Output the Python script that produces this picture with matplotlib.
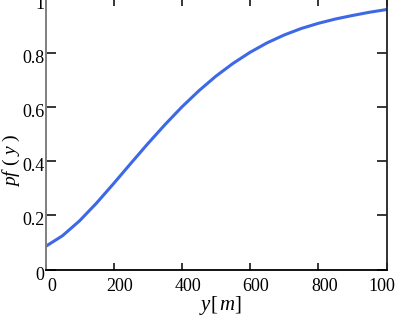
# -*- coding: utf-8 -*-
"""
Purpose: redraw the pf(y) curve (probability vs. distance y in metres).
Output: out.png, 395x322 px.
"""

from __future__ import annotations

import matplotlib
matplotlib.use('Agg')
import matplotlib.pyplot as plt
from matplotlib.transforms import ScaledTranslation, blended_transform_factory

# values
y_dist = [0, 50, 100, 150, 200, 250, 300, 350, 400, 450, 500,
          550, 600, 650, 700, 750, 800, 850, 900, 950, 1000]
pf_vals = [0.085, 0.125, 0.18, 0.246, 0.318, 0.392, 0.465, 0.535, 0.601, 0.661, 0.715,
           0.762, 0.803, 0.838, 0.867, 0.891, 0.910, 0.926, 0.939, 0.951, 0.961]

x_ticks = [0, 200, 400, 600, 800, 1000]
x_tick_labels = ['0', '200', '400', '600', '800', '1000']
y_ticks = [0, 0.2, 0.4, 0.6, 0.8, 1]
y_tick_labels = ['0', '0.2', '0.4', '0.6', '0.8', '1']

plt.rcParams['font.family'] = 'Liberation Serif'
plt.rcParams['mathtext.fontset'] = 'custom'
plt.rcParams['mathtext.rm'] = 'Liberation Serif'
plt.rcParams['mathtext.it'] = 'Liberation Serif:italic'

DPI = 100
W, H = 395, 322


def px(n: float) -> float:
    """pixels -> inches (for offset transforms)"""
    return n / DPI


def main() -> None:
    fig = plt.figure(figsize=(W / DPI, H / DPI), dpi=DPI)
    left, right, bottom, top = 45.5, 386.5, 269.5, -1.0
    ax = fig.add_axes([left / W, (H - bottom) / H, (right - left) / W, (bottom - top) / H])

    ax.plot(y_dist, pf_vals, color='#3d68e6', lw=2.2,
            solid_capstyle='round', solid_joinstyle='round')

    ax.set_xlim(0, 1000)
    ax.set_ylim(0, 1)
    ax.set_xticks(x_ticks)
    ax.set_yticks(y_ticks)
    ax.tick_params(direction='in', length=5, width=1.1, color='black',
                   top=True, right=True, labelbottom=False, labelleft=False)
    ax.tick_params(axis='y', length=7)

    ax.spines['left'].set_color('#7f7f7f')
    ax.spines['left'].set_linewidth(1.4)
    ax.spines['bottom'].set_color('black')
    ax.spines['bottom'].set_linewidth(1.3)
    ax.spines['right'].set_color('#222222')
    ax.spines['right'].set_linewidth(1.3)
    ax.spines['top'].set_visible(False)

    # tick labels, placed by hand (Mathcad-like offsets)
    xt = blended_transform_factory(ax.transData, ax.transAxes)
    for val, lab in zip(x_ticks, x_tick_labels):
        shift = 0 if val == 1000 else 6
        tr = xt + ScaledTranslation(px(shift), px(-21.5), fig.dpi_scale_trans)
        ax.text(val, 0, lab, transform=tr, ha='center', va='baseline',
                fontsize=13, clip_on=False)

    yt = blended_transform_factory(ax.transAxes, ax.transData)
    for val, lab in zip(y_ticks, y_tick_labels):
        tr = yt + ScaledTranslation(px(-1), px(-10), fig.dpi_scale_trans)
        ax.text(0, val, lab, transform=tr, ha='right', va='baseline',
                fontsize=13, clip_on=False)

    fig.text(220 / W, 1 - 310 / H, r'$y[\,m]$', ha='center', va='baseline', fontsize=15)
    fig.text(11.5 / W, 1 - 160 / H, r'$pf\ (\ y\ )$', ha='center', va='center',
             rotation=90, fontsize=14)

    fig.savefig('out.png', dpi=DPI)
    plt.close(fig)


if __name__ == '__main__':
    main()
